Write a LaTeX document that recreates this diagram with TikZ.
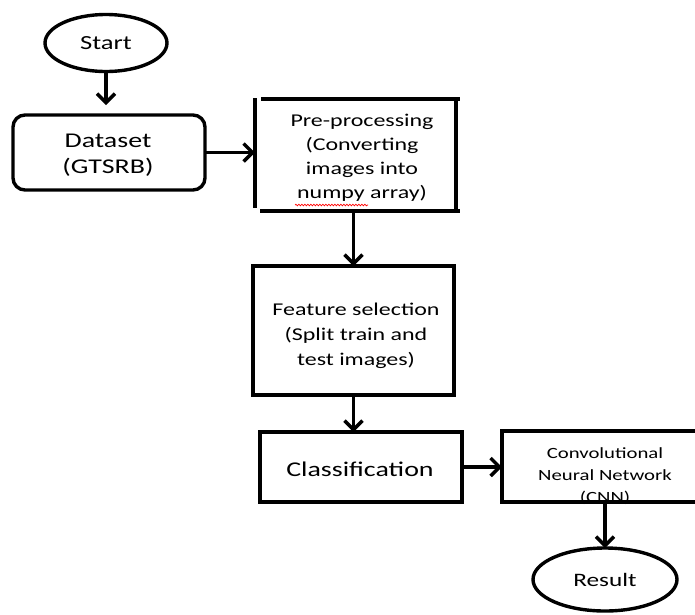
\documentclass[tikz,border=0pt]{standalone}
\usepackage{fontspec}
\setmainfont{Carlito}[FakeStretch=1.33]
\usetikzlibrary{arrows.meta,shapes.geometric,decorations.pathmorphing}
\begin{document}
\begin{tikzpicture}[x=1pt,y=-1pt,line width=3.4pt,
  outline/.style={draw,line width=3.4pt,inner sep=0pt,outer sep=0pt},
  edge/.style={line width=3.4pt},
  ghost/.style={inner sep=0pt,outer sep=0pt},
  txt/.style={align=center,inner sep=0pt},
  arr/.style={-{Straight Barb[length=9pt,width=18pt,line width=3.4pt]},line width=3.4pt}]
\useasboundingbox (0,0) rectangle (695,614);
% Start
\node[outline,ellipse,minimum width=122pt,minimum height=57pt,font=\fontsize{20}{24}\selectfont] (start) at (106,43) {Start};
% Dataset
\node[outline,rounded corners=12pt,minimum width=192pt,minimum height=75pt] (data) at (109,152.5) {};
\node[txt,font=\fontsize{21}{26}\selectfont] (datat) at (108,155) {Dataset\\(GTSRB)};
% Pre-processing (open-cornered box)
\node[ghost,minimum width=201pt,minimum height=112pt] (pre) at (355.5,155) {};
\draw[edge] (255,98) -- (255,208);
\draw[edge] (261,99) -- (460,99);
\draw[edge] (456,99) -- (456,211);
\draw[edge] (260,211) -- (460,211);
\node[txt,font=\fontsize{18}{24}\selectfont] (pret) at (362,157.5) {Pre-processing\\(Converting\\images into\\numpy array)};
\draw[red,line width=0.7pt,decorate,decoration={snake,amplitude=0.8pt,segment length=3pt}] (295,205) -- (368,205);
% Feature selection
\node[outline,minimum width=201pt,minimum height=129pt] (feat) at (353.5,330.5) {};
\node[txt,font=\fontsize{18}{25}\selectfont] (featt) at (356,335.5) {Feature selection\\(Split train and\\test images)};
% Classification
\node[outline,minimum width=202pt,minimum height=70pt] (class) at (361,467) {};
\node[txt,font=\fontsize{21}{26}\selectfont] (classt) at (360,469.5) {Classification};
% CNN
\node[outline,minimum width=220pt,minimum height=71pt] (cnn) at (612,466.5) {};
\node[txt,font=\fontsize{15.6}{22}\selectfont] (cnnt) at (605,476) {Convolutional\\Neural Network\\(CNN)};
% Result
\node[outline,ellipse,minimum width=144pt,minimum height=63pt,font=\fontsize{19}{23}\selectfont] (result) at (605,579.5) {Result};
% connectors
\draw[arr,shorten >=10pt] (start.south) -- (start.south |- data.north);
\draw[arr] (data.east) -- (pre.west |- data.east);
\draw[arr] (feat.north |- pre.south) -- (feat.north);
\draw[arr] (feat.south) -- (feat.south |- class.north);
\draw[arr] (class.east) -- (cnn.west |- class.east);
\draw[arr] (result.north |- cnn.south) -- (result.north);
\end{tikzpicture}
\end{document}
